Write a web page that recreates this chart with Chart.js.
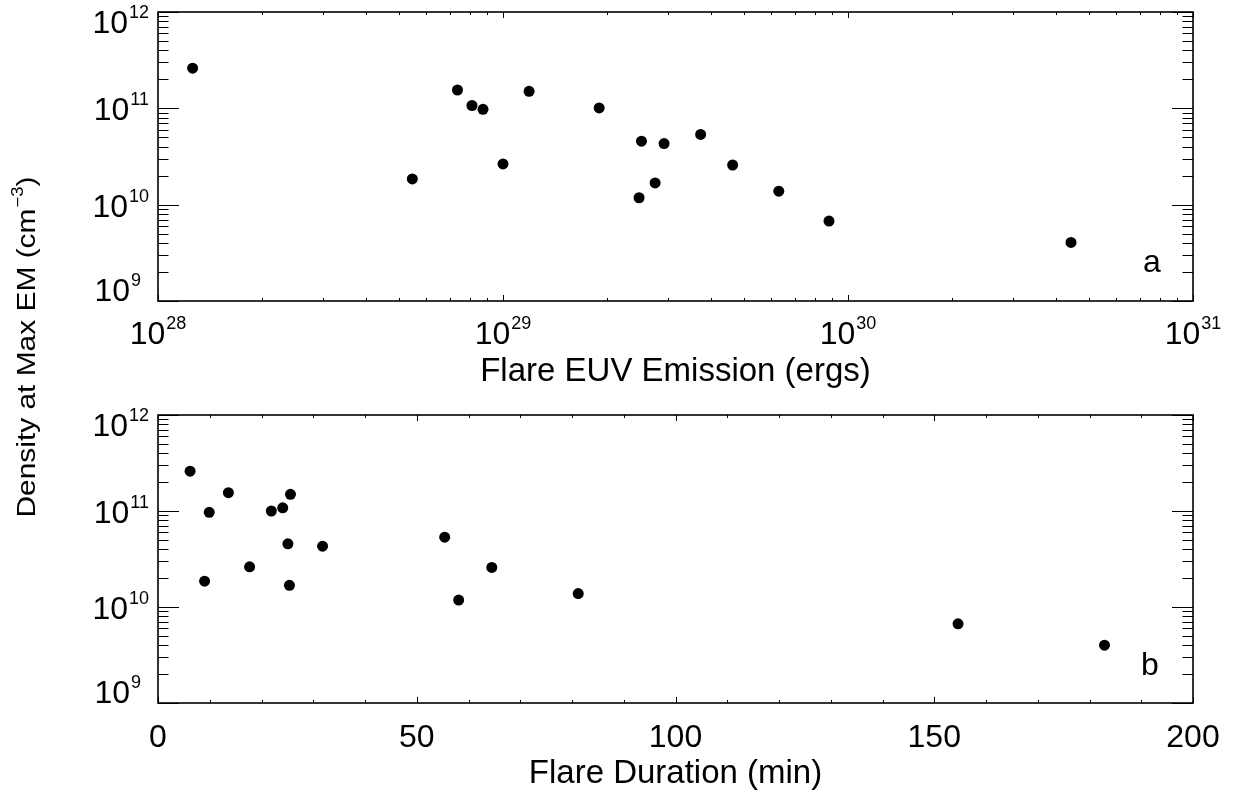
<!DOCTYPE html>
<html>
<head>
<meta charset="utf-8">
<script src="https://cdn.jsdelivr.net/npm/chart.js@4"></script>
<style>
  html, body { margin: 0; padding: 0; background: #fff; }
  #wrap { position: relative; width: 1234px; height: 794px; }
  #wrap canvas { position: absolute; left: 0; top: 0; }
</style>
</head>
<body>
<div id="wrap">
  <canvas id="chartA" width="1234" height="794"></canvas>
  <canvas id="chartB" width="1234" height="794"></canvas>
</div>
<script>
// panel a: flare EUV emission (ergs) vs density at max EM (cm^-3)
const euvEnergy = [1.26e28, 5.46e28, 7.38e28, 8.13e28, 8.75e28, 1.0e29, 1.19e29, 1.90e29, 2.52e29,
                   2.93e29, 3.74e29, 4.63e29, 2.76e29, 2.48e29, 6.30e29, 8.81e29, 4.43e30];
const densityA  = [2.61e11, 1.85e10, 1.55e11, 1.07e11, 9.77e10, 2.65e10, 1.50e11, 1.01e11, 4.56e10,
                   4.31e10, 5.36e10, 2.58e10, 1.68e10, 1.18e10, 1.38e10, 6.75e9, 4.05e9];

// panel b: flare duration (min) vs density at max EM
const duration = [6.2, 9.9, 13.6, 9.0, 17.7, 21.9, 24.1, 25.6, 25.1, 25.4, 31.8, 55.4, 58.1, 64.5, 81.2, 154.6, 182.9];
const densityB = [2.6e11, 9.7e10, 1.55e11, 1.86e10, 2.62e10, 1.0e11, 1.08e11, 1.49e11, 4.55e10, 1.68e10,
                  4.3e10, 5.34e10, 1.18e10, 2.58e10, 1.38e10, 6.68e9, 4.0e9];

const xTicksA = [1e28, 1e29, 1e30, 1e31];
const xTicksB = [0, 50, 100, 150, 200];
const yTicks = [1e9, 1e10, 1e11, 1e12];

const FONT = '"Liberation Sans", Arial, Helvetica, sans-serif';

function line(ctx, x1, y1, x2, y2) {
  ctx.beginPath();
  ctx.moveTo(x1, y1);
  ctx.lineTo(x2, y2);
  ctx.stroke();
}

// draws "10" with a raised exponent; align is 'center' or 'right'
function drawPow(ctx, exp, x, y, align) {
  ctx.font = '32px ' + FONT;
  const wb = ctx.measureText('10').width;
  ctx.font = '18px ' + FONT;
  const we = ctx.measureText(exp).width;
  const total = wb + 1 + we;
  const x0 = align === 'center' ? x - total / 2 : x - total;
  ctx.textAlign = 'left';
  ctx.textBaseline = 'alphabetic';
  ctx.font = '32px ' + FONT;
  ctx.fillText('10', x0, y);
  ctx.font = '18px ' + FONT;
  ctx.fillText(exp, x0 + wb + 1, y - 15);
}

function minorLog(min, max) {
  const out = [];
  for (let n = Math.round(Math.log10(min)); n < Math.round(Math.log10(max)); n++) {
    for (let k = 2; k <= 9; k++) out.push(k * Math.pow(10, n));
  }
  return out;
}

const idlFrame = {
  id: 'idlFrame',
  afterDraw(chart, args, opts) {
    const ctx = chart.ctx;
    const area = chart.chartArea;
    const sx = chart.scales.x, sy = chart.scales.y;
    const L = area.left, R = area.right, T = area.top, B = area.bottom;
    ctx.save();
    ctx.strokeStyle = '#000';
    ctx.fillStyle = '#000';

    // x ticks, inward on bottom and top
    ctx.lineWidth = 1;
    const xMinor = opts.xLog ? minorLog(sx.min, sx.max) : [];
    if (!opts.xLog) {
      for (let v = sx.min; v <= sx.max; v += 10) if (!opts.xTicks.includes(v)) xMinor.push(v);
    }
    xMinor.forEach(v => {
      const px = Math.round(sx.getPixelForValue(v)) + 0.5;
      line(ctx, px, B, px, B - 3);
      line(ctx, px, T, px, T + 3);
    });
    opts.xTicks.forEach(v => {
      const px = Math.round(sx.getPixelForValue(v)) + 0.5;
      line(ctx, px, B, px, B - 6);
      line(ctx, px, T, px, T + 6);
    });

    // y ticks, inward on left and right
    minorLog(sy.min, sy.max).forEach(v => {
      const py = Math.round(sy.getPixelForValue(v)) + 0.5;
      line(ctx, L, py, L + 10.5, py);
      line(ctx, R, py, R - 10.5, py);
    });
    yTicks.forEach(v => {
      const py = Math.round(sy.getPixelForValue(v)) + 0.5;
      line(ctx, L, py, L + 21, py);
      line(ctx, R, py, R - 21, py);
    });

    // frame
    ctx.lineWidth = 1.6;
    ctx.strokeRect(L, T, R - L, B - T);

    // x tick labels
    opts.xTicks.forEach(v => {
      const px = sx.getPixelForValue(v);
      if (opts.xLog) {
        drawPow(ctx, String(Math.round(Math.log10(v))), px, B + 43, 'center');
      } else {
        ctx.font = '32px ' + FONT;
        ctx.textAlign = 'center';
        ctx.textBaseline = 'alphabetic';
        ctx.fillText(String(v), px, B + 44);
      }
    });

    // y tick labels, kept inside the axis range like IDL does
    yTicks.forEach(v => {
      const py = sy.getPixelForValue(v);
      const base = Math.min(Math.max(py + 12, T + 21), B);
      const exp = String(Math.round(Math.log10(v)));
      drawPow(ctx, exp, exp.length === 1 ? 141 : 149, base, 'right');
    });

    // x title
    ctx.font = '33px ' + FONT;
    ctx.textAlign = 'center';
    ctx.textBaseline = 'alphabetic';
    ctx.fillText(opts.xTitle, (L + R) / 2, B + 80);

    // panel letter
    ctx.font = '32px ' + FONT;
    ctx.textAlign = 'left';
    ctx.fillText(opts.letter, opts.letterX, opts.letterY);

    // shared y title
    if (opts.yTitle) {
      ctx.save();
      ctx.translate(35, 347);
      ctx.rotate(-Math.PI / 2);
      ctx.scale(1.15, 1);
      ctx.font = '26px ' + FONT;
      const main = 'Density at Max EM (cm';
      const sup = '\u22123';
      const w1 = ctx.measureText(main).width;
      const w3 = ctx.measureText(')').width;
      ctx.font = '16px ' + FONT;
      const w2 = ctx.measureText(sup).width;
      const total = w1 + w2 + w3 + 1;
      let x = -total / 2;
      ctx.textAlign = 'left';
      ctx.font = '26px ' + FONT;
      ctx.fillText(main, x, 0);
      ctx.font = '16px ' + FONT;
      ctx.fillText(sup, x + w1 + 1, -12);
      ctx.font = '26px ' + FONT;
      ctx.fillText(')', x + w1 + w2 + 1, 0);
      ctx.restore();
    }
    ctx.restore();
  }
};

function makeChart(id, xs, ys, xScale, padding, frameOpts) {
  const pts = xs.map((x, i) => ({ x: x, y: ys[i] }));
  return new Chart(document.getElementById(id), {
    type: 'scatter',
    data: {
      datasets: [{
        data: pts,
        backgroundColor: '#000',
        borderWidth: 0,
        pointRadius: 5.5,
        pointHoverRadius: 5.5
      }]
    },
    options: {
      responsive: false,
      animation: false,
      devicePixelRatio: 1,
      layout: { padding: padding },
      scales: {
        x: Object.assign({ display: false }, xScale),
        y: { type: 'logarithmic', min: 1e9, max: 1e12, display: false }
      },
      plugins: {
        legend: { display: false },
        tooltip: { enabled: false },
        idlFrame: frameOpts
      }
    },
    plugins: [idlFrame]
  });
}

makeChart('chartA', euvEnergy, densityA,
  { type: 'logarithmic', min: 1e28, max: 1e31 },
  { left: 158, right: 41, top: 12, bottom: 493 },
  { xLog: true, xTicks: xTicksA, xTitle: 'Flare EUV Emission (ergs)', letter: 'a', letterX: 1143, letterY: 272, yTitle: true });

makeChart('chartB', duration, densityB,
  { type: 'linear', min: 0, max: 200 },
  { left: 158, right: 41, top: 415, bottom: 91 },
  { xLog: false, xTicks: xTicksB, xTitle: 'Flare Duration (min)', letter: 'b', letterX: 1141, letterY: 675, yTitle: false });
</script>
</body>
</html>
